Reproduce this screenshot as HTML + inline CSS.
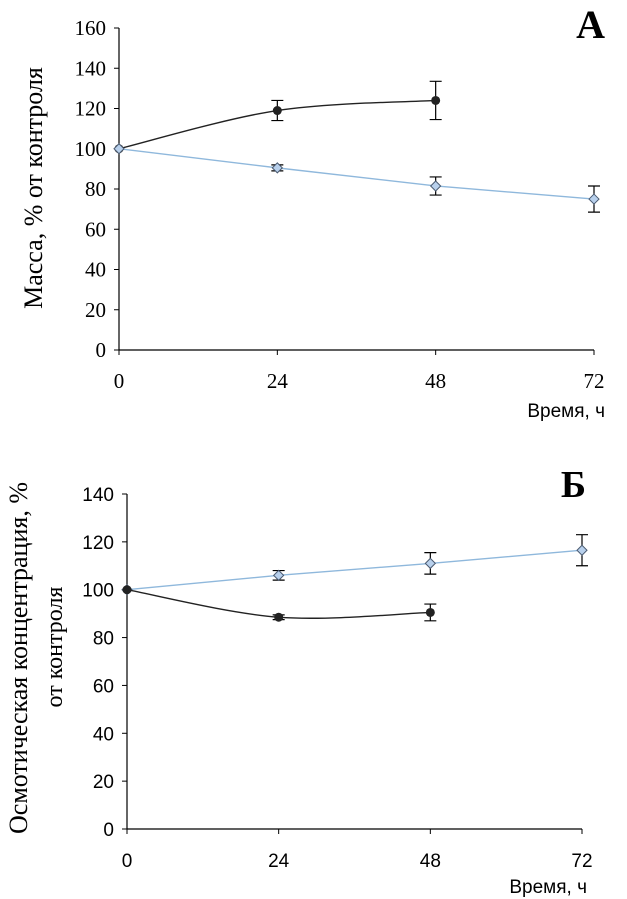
<!DOCTYPE html>
<html><head><meta charset="utf-8"><style>
body{margin:0;background:#fff;width:627px;height:899px;overflow:hidden}
svg{display:block}
.ser{font-family:"Liberation Serif",serif}
.san{font-family:"Liberation Sans",sans-serif}
</style></head><body>
<svg id="s" width="627" height="899"></svg>
<script>
const xCats=[0,24,48,72];
const aTicks=[0,20,40,60,80,100,120,140,160];
const aBlack=[100,119,124];
const aBlackErr=[0,5,9.5];
const aBlue=[100,90.5,81.5,75];
const aBlueErr=[0,1.5,4.5,6.5];
const bTicks=[0,20,40,60,80,100,120,140];
const bBlue=[100,106,111,116.5];
const bBlueErr=[0,2,4.5,6.5];
const bBlack=[100,88.5,90.5];
const bBlackErr=[0,1,3.5];

const NS='http://www.w3.org/2000/svg';
const svg=document.getElementById('s');
function mk(t,a,txt,p){const e=document.createElementNS(NS,t);for(const k in a)e.setAttribute(k,a[k]);if(txt!=null)e.textContent=txt;(p||svg).appendChild(e);return e;}
function smooth(pts){let d='M'+pts[0][0]+','+pts[0][1];for(let i=0;i<pts.length-1;i++){const p0=pts[i-1]||pts[i],p1=pts[i],p2=pts[i+1],p3=pts[i+2]||p2;const c1=[p1[0]+(p2[0]-p0[0])/6,p1[1]+(p2[1]-p0[1])/6],c2=[p2[0]-(p3[0]-p1[0])/6,p2[1]-(p3[1]-p1[1])/6];d+=' C'+c1+' '+c2+' '+p2;}return d;}

function chart(cfg){
  const g=mk('g',{});
  
  
  const X=v=>cfg.x0+(v-0)/72*(cfg.x1-cfg.x0);
  const Y=v=>cfg.y0-v/cfg.ymax*(cfg.y0-cfg.y1);
  const ax=mk('path',{d:`M${cfg.x0},${cfg.y1}V${cfg.y0}H${cfg.x1}`,stroke:'#000','stroke-width':1.2,fill:'none'},null,g);
  
  cfg.ticks.forEach(t=>{
    mk('line',{x1:cfg.x0-5,x2:cfg.x0,y1:Y(t),y2:Y(t),stroke:'#000'},null,g);
    const l=mk('text',{x:cfg.x0-13,y:Y(t)+7,'text-anchor':'end','font-size':cfg.tfs,class:cfg.tcls},t,g);
    
  });
  xCats.forEach(c=>{
    mk('line',{x1:X(c),x2:X(c),y1:cfg.y0,y2:cfg.y0+5,stroke:'#000'},null,g);
    const l=mk('text',{x:X(c),y:cfg.y0+38,'text-anchor':'middle','font-size':cfg.tfs,class:cfg.tcls},c,g);
    
  });
  cfg.series.forEach(s=>{
    const pts=s.v.map((v,i)=>[X(xCats[i]),Y(v)]);
    const ln=mk('path',{d:s.smooth?smooth(pts):'M'+pts.join('L'),stroke:s.line,'stroke-width':1.4,fill:'none'},null,g);
    
    s.v.forEach((v,i)=>{
      const x=X(xCats[i]),e=s.e[i];
      if(e>0){const eb=mk('path',{d:`M${x},${Y(v+e)}V${Y(v-e)}M${x-6},${Y(v+e)}h12M${x-6},${Y(v-e)}h12`,stroke:'#000','stroke-width':1.2,fill:'none'},null,g);
        }
      let m;
      if(s.marker==='circle')m=mk('circle',{cx:x,cy:Y(v),r:4.5,fill:'#222'},null,g);
      else m=mk('path',{d:`M${x},${Y(v)-5}L${x+5},${Y(v)}L${x},${Y(v)+5}L${x-5},${Y(v)}Z`,fill:'#b8d0ec',stroke:'#4a5a70','stroke-width':1},null,g);
      
    });
  });
}

chart({name:'chart-a',x0:119,x1:594,y0:350,y1:28,ymax:160,ticks:aTicks,tfs:21,tcls:'ser',
  series:[{name:'black-series',v:aBlack,e:aBlackErr,line:'#222',marker:'circle',smooth:true},
          {name:'blue-series',v:aBlue,e:aBlueErr,line:'#8fb8dc',marker:'diamond'}]});
chart({name:'chart-b',x0:127,x1:582,y0:829,y1:494,ymax:140,ticks:bTicks,tfs:19,tcls:'san',
  series:[{name:'blue-series',v:bBlue,e:bBlueErr,line:'#8fb8dc',marker:'diamond'},
          {name:'black-series',v:bBlack,e:bBlackErr,line:'#222',marker:'circle',smooth:true}]});

function txt(a,t,name){const e=mk('text',a,t);}
txt({x:605,y:38,'text-anchor':'end','font-size':40,'font-weight':'bold',class:'ser'},'A','panel-label-a');
txt({x:605,y:417,'text-anchor':'end','font-size':19,class:'san'},'Время, ч','x-axis-title-a');
txt({x:0,y:0,'text-anchor':'middle','font-size':26,class:'ser',transform:'translate(42,188) rotate(-90)'},'Масса, % от контроля','y-axis-title-a');
txt({x:0,y:0,'text-anchor':'middle','font-size':26,class:'ser',transform:'translate(27,658) rotate(-90)'},'Осмотическая концентрация, %','y-axis-title-b-line1');
txt({x:0,y:0,'text-anchor':'middle','font-size':24,class:'ser',transform:'translate(62,647) rotate(-90)'},'от контроля','y-axis-title-b-line2');
txt({x:586,y:497,'text-anchor':'end','font-size':38,'font-weight':'bold',class:'ser'},'Б','panel-label-b');
txt({x:587,y:893,'text-anchor':'end','font-size':19,class:'san'},'Время, ч','x-axis-title-b');
</script>
</body></html>
